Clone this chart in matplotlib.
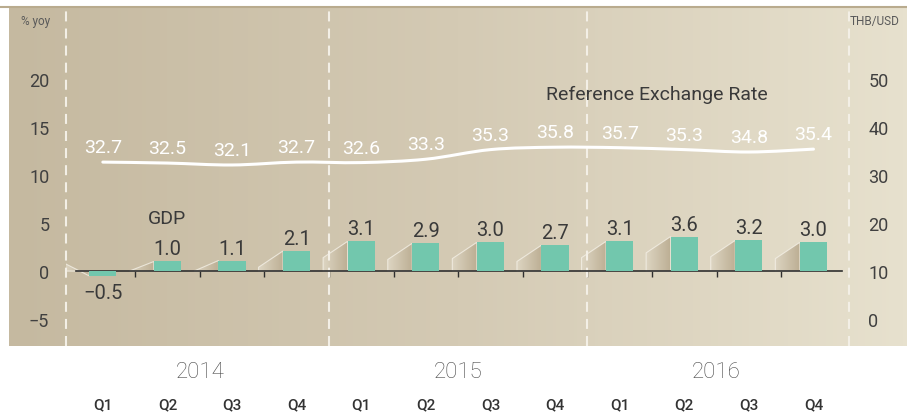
import numpy as np
import matplotlib.pyplot as plt
import matplotlib.transforms as mtransforms
from matplotlib.path import Path
from matplotlib.patches import Polygon, PathPatch
from matplotlib.colors import LinearSegmentedColormap

plt.rcParams['font.family'] = ['Roboto', 'DejaVu Sans']

# data
quarters = ['Q1', 'Q2', 'Q3', 'Q4'] * 3
years = ['2014', '2015', '2016']
gdp = [-0.5, 1.0, 1.1, 2.1, 3.1, 2.9, 3.0, 2.7, 3.1, 3.6, 3.2, 3.0]
fx_rate = [32.7, 32.5, 32.1, 32.7, 32.6, 33.3, 35.3, 35.8, 35.7, 35.3, 34.8, 35.4]
left_ticks = [-5, 0, 5, 10, 15, 20]
right_ticks = [0, 10, 20, 30, 40, 50]

W, H = 907, 414
fig = plt.figure(figsize=(W / 100, H / 100), dpi=100)

# background panel with gradient
bg = fig.add_axes([9 / W, (H - 347) / H, (W - 9) / W, 339 / H])
bg_cmap = LinearSegmentedColormap.from_list('bg', ['#c5b9a0', '#d4cab4', '#e7e1ce'])
grad = np.linspace(0, 1, 256)[None, :]
bg.imshow(grad, cmap=bg_cmap, aspect='auto', extent=[0, 1, 0, 1])
bg.axis('off')
fig.add_artist(plt.Line2D([0, 1], [1 - 8 / H] * 2, color='#b9ab8e', lw=1.5))

# main axes
ax = fig.add_axes([66 / W, (H - 347) / H, (849 - 66) / W, 339 / H])
ax.patch.set_alpha(0)
x = np.arange(len(gdp))
bw = 0.42

# shadows behind the bars
shade_cmap = LinearSegmentedColormap.from_list('sh', ['#ddd5c2', '#bcae93'])
dx = 0.38
for xi, h in zip(x, gdp):
    L = xi - bw / 2
    if h >= 0:
        pts = [(L - dx, 0), (L - dx, max(h - 1.7, 0)), (L, h), (L, 0)]
    else:
        pts = [(L - dx, 0), (L - dx, 0.8), (L, h), (L, 0)]
    poly = Polygon(pts, closed=True, fc='none', ec='#f4f0e6', lw=0.8, alpha=0.8, zorder=2)
    ax.add_patch(poly)
    ys = [p[1] for p in pts]
    im = ax.imshow(grad, cmap=shade_cmap, aspect='auto',
                   extent=[L - dx, L, min(ys), max(ys)], zorder=1.5)
    im.set_clip_path(poly)

for xv in [-0.57, 3.5, 7.5, 11.55]:
    ax.axvline(xv, color='#f3efe6', lw=1.5, ls=(0, (4.8, 3.4)), zorder=2.2, clip_on=False)

ax.bar(x, gdp, width=bw, color='#72c7ad', zorder=3)
for xi, h in zip(x, gdp):
    off = 7 if h >= 0 else -22
    ax.annotate(f'{h:.1f}'.replace('-', '\u2212'), (xi, h), xytext=(0, off),
                textcoords='offset pixels', ha='center', va='baseline',
                fontsize=14.5, color='#3a3a3a', zorder=5)

ax.set_xlim(-0.57, 11.55)
ax.set_ylim(-7.8, 27.5)
ax.set_yticks(left_ticks)
ax.tick_params(axis='y', length=0, pad=12, labelsize=13, labelcolor='#404040')
ax.spines[['top', 'left', 'right']].set_visible(False)
ax.spines['bottom'].set_position(('data', 0))
ax.spines['bottom'].set_bounds(-0.42, 11.44)
ax.spines['bottom'].set_color('#2f2f2f')
ax.spines['bottom'].set_linewidth(1.2)
ax.set_xticks(x[:-1] + 0.5)
ax.tick_params(axis='x', direction='out', length=4, width=1, color='#2f2f2f',
               labelbottom=False)

ax.text(1, 5.5, 'GDP', ha='center', va='center', fontsize=14, color='#3a3a3a')
ax.text(8.58, 18.4, 'Reference Exchange Rate', ha='center', va='center',
        fontsize=14, color='#3a3a3a')

# exchange rate on the right axis
ax2 = ax.twinx()
ax2.set_ylim(2 * -7.8 + 10, 2 * 27.5 + 10)
ax2.set_yticks(right_ticks)
ax2.tick_params(axis='y', length=0, pad=14, labelsize=13, labelcolor='#404040')
for s in ax2.spines.values():
    s.set_visible(False)

pts = np.column_stack([x, fx_rate]).astype(float)
verts = [pts[0]]
codes = [Path.MOVETO]
for i in range(len(pts) - 1):
    p0 = pts[max(i - 1, 0)]
    p1 = pts[i]
    p2 = pts[i + 1]
    p3 = pts[min(i + 2, len(pts) - 1)]
    verts += [p1 + (p2 - p0) / 6, p2 - (p3 - p1) / 6, p2]
    codes += [Path.CURVE4] * 3
ax2.add_patch(PathPatch(Path(verts, codes), fc='none', ec='white', lw=2.2, capstyle='round'))
for xi, v in zip(x, fx_rate):
    ax2.annotate(f'{v:.1f}', (xi, v), xytext=(0, 10), textcoords='offset pixels',
                 ha='center', va='baseline', fontsize=14, color='white')

# category labels below the panel
tr = mtransforms.blended_transform_factory(ax.transData, fig.transFigure)
for xi, q in zip(x, quarters):
    ax.text(xi, 1 - 405 / H, q, transform=tr, ha='center', va='center',
            fontsize=11, color='#333333', fontweight='medium')
for k, yr in enumerate(years):
    ax.text(x[4 * k:4 * k + 4].mean(), 1 - 373 / H, yr, transform=tr, ha='center',
            va='center', fontsize=16, color='#4a4a4a', fontweight='light')

fig.text(36 / W, 1 - 22 / H, '% yoy', ha='center', va='center', fontsize=8.5, color='#5a5a5a')
fig.text(875 / W, 1 - 22 / H, 'THB/USD', ha='center', va='center', fontsize=8.5, color='#5a5a5a')

fig.savefig('out.png', dpi=100)
